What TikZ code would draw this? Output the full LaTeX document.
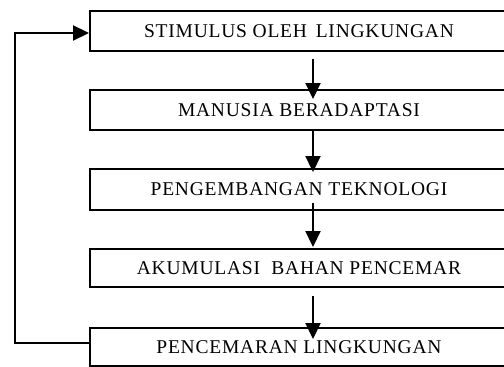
\documentclass[tikz,border=0pt]{standalone}
\usepackage{fontspec}
\setmainfont{Liberation Serif}
\newfontfamily\boxfont[LetterSpace=4]{Liberation Serif}
\usetikzlibrary{arrows.meta}
\begin{document}
\begin{tikzpicture}[x=1pt,y=-1pt,
  box/.style={draw, line width=1.9pt, minimum width=418pt, inner sep=0pt,
    font=\boxfont\fontsize{19.5}{21}\selectfont, anchor=center},
  arr/.style={line width=1.9pt, -{Triangle[length=16pt,width=15pt]}}]
\clip (0,0) rectangle (504,367);
\fill[white] (0,0) rectangle (504,367);
\node[box, minimum height=40pt] (b1) at (299,31) {STIMULUS OLEH\hspace{0.45em}LINGKUNGAN\hspace{8pt}};
\node[box, minimum height=40pt] (b2) at (299,110) {MANUSIA BERADAPTASI};
\node[box, minimum height=41pt] (b3) at (299,189.5) {PENGEMBANGAN TEKNOLOGI};
\node[box, minimum height=38pt] (b4) at (299,268) {AKUMULASI\ \ BAHAN PENCEMAR};
\node[box, minimum height=38pt] (b5) at (299,347) {PENCEMARAN LINGKUNGAN};
\coordinate (lx) at (15,0);
\coordinate (ax) at (313,0);
\draw[arr] ([yshift=-7pt]b1.south -| ax) -- ([yshift=-10pt]b2.north -| ax);
\draw[arr] (b2.south -| ax) -- ([yshift=-4pt]b3.north -| ax);
\draw[arr] ([yshift=8pt]b3.south -| ax) -- ([yshift=1pt]b4.north -| ax);
\draw[arr] ([yshift=-8pt]b4.south -| ax) -- ([yshift=-12pt]b5.north -| ax);
\draw[arr] ([yshift=4pt]b5.west) -- ([yshift=4pt]b5.west -| lx) |- ([yshift=-2pt]b1.west);
\end{tikzpicture}
\end{document}
